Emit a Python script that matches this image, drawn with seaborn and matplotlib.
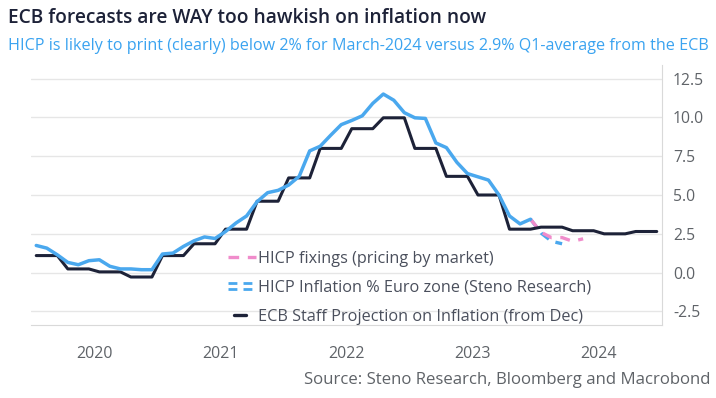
import numpy as np
import pandas as pd
import matplotlib
matplotlib.use("Agg")
import matplotlib.pyplot as plt
import seaborn as sns
from matplotlib.lines import Line2D
from matplotlib.legend_handler import HandlerBase

# ---------------- data ----------------
# monthly HICP (Jan 2020 .. Dec 2023)
hicp = [1.75, 1.58, 1.15, 0.66, 0.51, 0.77, 0.83, 0.41, 0.24, 0.24, 0.19, 0.19,
        1.20, 1.26, 1.69, 2.05, 2.30, 2.20, 2.65, 3.20, 3.65, 4.57, 5.15, 5.30,
        5.64, 6.20, 7.84, 8.14, 8.85, 9.53, 9.80, 10.10, 10.90, 11.50, 11.10, 10.30,
        9.97, 9.93, 8.35, 8.05, 7.10, 6.38, 6.17, 5.96, 5.00, 3.65, 3.14, 3.44]
# Steno Research nowcast (Dec 2023 .. Mar 2024)
steno = [3.44, 2.55, 2.02, 1.86]
# HICP fixings (Dec 2023 .. May 2024)
fixings = [3.44, 2.60, 2.25, 2.26, 2.02, 2.18]
# ECB staff projection, quarterly (2020Q1 .. 2024Q4)
ecb_q = [1.10, 0.24, 0.05, -0.28, 1.10, 1.86, 2.80, 4.60, 6.10, 8.00, 9.27, 9.97,
         8.00, 6.20, 5.00, 2.80, 2.93, 2.70, 2.50, 2.65]
years = ["2020", "2021", "2022", "2023", "2024"]
yticks = [-2.5, 0.0, 2.5, 5.0, 7.5, 10.0, 12.5]

labels = ["HICP fixings (pricing by market)",
          "HICP Inflation % Euro zone (Steno Research)",
          "ECB Staff Projection on Inflation (from Dec)"]

BLUE = "#4aa8ee"
PINK = "#f08ccb"
NAVY = "#1d2238"
GRAY = "#5f6368"
GRID = "#e6e6e6"

# month positions (centre of month, Jan 2020 = 0)
df_hicp = pd.DataFrame({"m": np.arange(len(hicp)) + 0.5, "v": hicp})
df_steno = pd.DataFrame({"m": np.arange(len(steno)) + 47.5, "v": steno})
df_fix = pd.DataFrame({"m": np.arange(len(fixings)) + 47.5, "v": fixings})
ecb_m = np.repeat(ecb_q, 3)
df_ecb = pd.DataFrame({"m": np.arange(len(ecb_m)) + 0.5, "v": ecb_m})

# ---------------- figure ----------------
sns.set_style("white")
plt.rcParams["font.family"] = ["Open Sans", "DejaVu Sans"]

fig = plt.figure(figsize=(7.16, 3.98), dpi=100)
ax = fig.add_axes([31 / 716, 1 - 325 / 398, 631 / 716, 260 / 398])

sns.lineplot(data=df_ecb, x="m", y="v", ax=ax, color=NAVY, lw=2.2, zorder=3)
sns.lineplot(data=df_steno, x="m", y="v", ax=ax, color=BLUE, lw=2.4,
             zorder=2).lines[-1].set_dashes([3, 2.2])
sns.lineplot(data=df_fix, x="m", y="v", ax=ax, color=PINK, lw=2.4,
             zorder=2).lines[-1].set_dashes([3, 2.6])
sns.lineplot(data=df_hicp, x="m", y="v", ax=ax, color=BLUE, lw=2.5, zorder=4)

ax.set_xlim(0, 60)
ax.set_ylim(-3.37, 13.37)
ax.set_xlabel("")
ax.set_ylabel("")

# y axis on the right
ax.yaxis.tick_right()
ax.set_yticks(yticks)
ax.set_yticklabels([f"{t:.1f}" for t in yticks])
ax.tick_params(axis="y", length=0, pad=8, labelsize=11.3, labelcolor=GRAY)
for t in yticks:
    ax.axhline(t, color=GRID, lw=1, zorder=0)

# x axis: ticks at year boundaries, labels centred
ax.set_xticks(np.arange(0, 61, 12))
ax.set_xticklabels([])
ax.set_xticks(np.arange(6, 60, 12), minor=True)
ax.set_xticklabels(years, minor=True)
ax.tick_params(axis="x", which="major", length=5, width=1, color="#bdbdbd", direction="out")
ax.tick_params(axis="x", which="minor", length=0, pad=15, labelsize=11.5, labelcolor=GRAY)

for s in ["top", "left"]:
    ax.spines[s].set_visible(False)
ax.spines["right"].set_color("#d9d9d9")
ax.spines["bottom"].set_color("#d9d9d9")


class DoubleDash(HandlerBase):
    def create_artists(self, legend, orig_handle, xdescent, ydescent,
                       width, height, fontsize, trans):
        arts = []
        for dy in (height * 0.5 + 2.2, height * 0.5 - 2.2):
            l = Line2D([-xdescent, -xdescent + width], [dy - ydescent] * 2,
                       color=BLUE, lw=2.0, dashes=[3.2, 2.2])
            l.set_transform(trans)
            arts.append(l)
        return arts


class ShortLine(HandlerBase):
    def create_artists(self, legend, orig_handle, xdescent, ydescent,
                       width, height, fontsize, trans):
        y = height * 0.5 - ydescent
        l = Line2D([-xdescent + width * 0.2, -xdescent + width * 0.65], [y, y],
                   color=NAVY, lw=2.4)
        l.set_transform(trans)
        return [l]


h_fix = Line2D([], [], color=PINK, lw=2.4, dashes=[3.2, 2.6])
h_hicp = Line2D([], [], color=BLUE)
h_ecb = Line2D([], [], color=NAVY)
leg = ax.legend([h_fix, h_hicp, h_ecb], labels, loc="upper left",
                bbox_to_anchor=((228 - 31) / 631, (325 - 251) / 260),
                frameon=False, fontsize=11.7, handlelength=1.75, handletextpad=0.12,
                labelspacing=0.8, borderaxespad=0, borderpad=0,
                handler_map={h_hicp: DoubleDash(), h_ecb: ShortLine()})
for t in leg.get_texts():
    t.set_color("#4a4f5c")

fig.text(8 / 716, 1 - 18 / 398, "ECB forecasts are WAY too hawkish on inflation now",
         fontsize=13.8, fontweight="semibold", color="#1d2238", va="center", ha="left")
fig.text(8 / 716, 1 - 46 / 398,
         "HICP is likely to print (clearly) below 2% for March-2024 versus 2.9% Q1-average from the ECB",
         fontsize=11.6, color="#3aa3f0", va="center", ha="left")
fig.text(711 / 716, 1 - 380 / 398, "Source: Steno Research, Bloomberg and Macrobond",
         fontsize=12.1, color=GRAY, va="center", ha="right")

fig.savefig("out.png", dpi=100)
